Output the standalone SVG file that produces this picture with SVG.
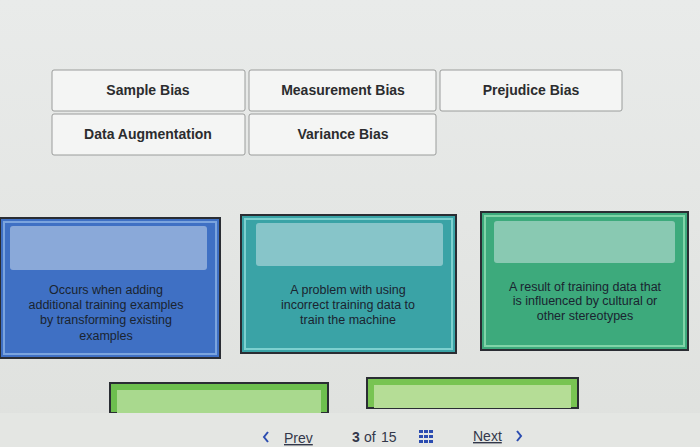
<svg xmlns="http://www.w3.org/2000/svg" width="700" height="447" viewBox="0 0 700 447">
<defs>
<linearGradient id="bg" x1="0" y1="0" x2="0" y2="1"><stop offset="0" stop-color="#e9ebea"/><stop offset="1" stop-color="#dfe1de"/></linearGradient>
<style>
.btn{fill:#f4f5f4;stroke:#9a9c9b;stroke-width:1}
.bt{font-family:"Liberation Sans",Arial,sans-serif;font-size:14px;font-weight:bold;fill:#2b2c2e;text-anchor:middle}
.ct{font-family:"Liberation Sans",Arial,sans-serif;font-size:12.5px;fill:#1a2430;text-anchor:middle}
.nav{font-family:"Liberation Sans",Arial,sans-serif;font-size:14px;fill:#33384a}
.slot{fill-opacity:0.45;fill:#e6f0f4}
</style>
</defs>
<rect width="700" height="447" fill="url(#bg)"/>
<g id="sample"><rect class="btn" x="52" y="70" width="193" height="41" rx="2"/><text class="bt" x="148" y="95">Sample Bias</text></g>
<g id="measurement"><rect class="btn" x="249" y="70" width="187" height="41" rx="2"/><text class="bt" x="343" y="95">Measurement Bias</text></g>
<g id="prejudice"><rect class="btn" x="440" y="70" width="182" height="41" rx="2"/><text class="bt" x="531" y="95">Prejudice Bias</text></g>
<g id="augmentation"><rect class="btn" x="52" y="114" width="193" height="41" rx="2"/><text class="bt" x="148" y="139">Data Augmentation</text></g>
<g id="variance"><rect class="btn" x="249" y="114" width="187" height="41" rx="2"/><text class="bt" x="343" y="139">Variance Bias</text></g>
<g id="card1"><rect x="0" y="218" width="220" height="140" fill="#3f70c4" stroke="#2a2d33" stroke-width="2"/><rect x="4" y="222" width="212" height="132" fill="none" stroke="#7ba4de" stroke-width="2"/><rect class="slot" x="10" y="226" width="197" height="44" rx="3"/>
<text class="ct" x="106" y="294">Occurs when adding</text><text class="ct" x="106" y="309">additional training examples</text><text class="ct" x="106" y="324">by transforming existing</text><text class="ct" x="106" y="340">examples</text></g>
<g id="card2"><rect x="241" y="215" width="215" height="138" fill="#3aa3a6" stroke="#2a2d33" stroke-width="2"/><rect x="245" y="219" width="207" height="130" fill="none" stroke="#7cd0cf" stroke-width="2"/><rect class="slot" x="256" y="223" width="187" height="43" rx="3"/>
<text class="ct" x="348" y="294">A problem with using</text><text class="ct" x="348" y="309">incorrect training data to</text><text class="ct" x="348" y="324">train the machine</text></g>
<g id="card3"><rect x="481" y="212" width="207" height="138" fill="#3daa7c" stroke="#2a2d33" stroke-width="2"/><rect x="485" y="216" width="199" height="130" fill="none" stroke="#80d4a8" stroke-width="2"/><rect class="slot" x="494" y="221" width="181" height="42" rx="3"/>
<text class="ct" x="585" y="291">A result of training data that</text><text class="ct" x="585" y="305">is influenced by cultural or</text><text class="ct" x="585" y="320">other stereotypes</text></g>
<g id="drop1"><rect x="110" y="383" width="218" height="30" fill="#6dbf4e" stroke="#2a2d33" stroke-width="2"/><rect x="117" y="390" width="204" height="23" fill="#a9d98e"/></g>
<g id="drop2"><rect x="367" y="378" width="211" height="30" fill="#78c452" stroke="#2a2d33" stroke-width="2"/><rect x="374" y="385" width="197" height="23" fill="#b5dd96"/></g>
<rect x="0" y="413" width="700" height="34" fill="#e4e6e3"/>
<g id="nav">
<path d="M268 432 l-4 5 l4 5" fill="none" stroke="#2b4cb0" stroke-width="2"/>
<text class="nav" x="284" y="443" text-decoration="underline">Prev</text>
<text class="nav" x="352" y="442" font-weight="bold">3</text><text class="nav" x="364" y="442" font-size="12">of</text><text class="nav" x="381" y="442">15</text>
<g fill="#2b4cb0"><rect x="419" y="430" width="4" height="3"/><rect x="424" y="430" width="4" height="3"/><rect x="429" y="430" width="4" height="3"/><rect x="419" y="435" width="4" height="3"/><rect x="424" y="435" width="4" height="3"/><rect x="429" y="435" width="4" height="3"/><rect x="419" y="440" width="4" height="3"/><rect x="424" y="440" width="4" height="3"/><rect x="429" y="440" width="4" height="3"/></g>
<text class="nav" x="473" y="441" text-decoration="underline">Next</text>
<path d="M517 431 l4 5 l-4 5" fill="none" stroke="#2b4cb0" stroke-width="2"/>
</g>
</svg>
